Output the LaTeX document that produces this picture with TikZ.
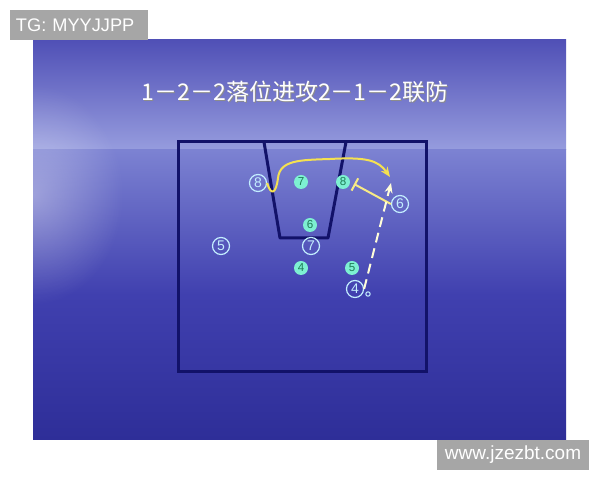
\documentclass[tikz,border=0pt]{standalone}
\usepackage{fontspec}
\setsansfont{Liberation Sans}
\newfontfamily\cjk{Noto Sans CJK SC}
\usetikzlibrary{arrows.meta,fadings}
\definecolor{skytop}{RGB}{80,80,182}
\definecolor{skymid}{RGB}{150,156,222}
\definecolor{seatop}{RGB}{124,130,210}
\definecolor{seamid}{RGB}{64,64,175}
\definecolor{seabot}{RGB}{46,46,152}
\definecolor{courtc}{RGB}{18,18,105}
\definecolor{offc}{RGB}{195,238,255}
\definecolor{defc}{RGB}{125,240,210}
\definecolor{defg}{RGB}{30,125,85}
\definecolor{movec}{RGB}{245,225,80}
\definecolor{tagc}{RGB}{166,166,166}
\tikzfading[name=haze, inner color=transparent!65, outer color=transparent!100]

\begin{document}
\begin{tikzpicture}[x=0.5pt, y=-0.5pt, off/.style={circle, draw=offc, text=offc, line width=0.6pt, inner sep=0pt, minimum size=8.5pt, font=\sffamily\fontsize{7}{7}\selectfont}, def/.style={circle, fill=defc, text=defg, inner sep=0pt, minimum size=7pt, font=\sffamily\fontsize{5.8}{6}\selectfont}, tag/.style={fill=tagc, text=white, inner sep=0pt, font=\sffamily\fontsize{9.5}{10}\selectfont}]
  \useasboundingbox (0,0) rectangle (600,480);
  \fill[white] (0,0) rectangle (600,480);
  % background
  \shade[top color=skytop, bottom color=skymid] (33,40) rectangle (566,150);
  \shade[top color=seatop, bottom color=seabot, middle color=seamid] (33,150) rectangle (566,440);
  \begin{scope}
    \clip (33,40) rectangle (566,440);
    \fill[white, path fading=haze] (33,195) ellipse (90 and 110);
  \end{scope}
  \node[tag, minimum width=69pt, minimum height=15pt, text width=63pt, font=\sffamily\fontsize{9.1}{10}\selectfont] (tg) at (79,25) {TG: MYYJJPP};
  \node[tag, minimum width=76pt, minimum height=15pt] (web) at (513,455) {www.jzezbt.com};
  \node[text=black!45, font=\cjk\fontsize{11.5}{13}\selectfont] (shadow) at (296,93) {1－2－2落位进攻2－1－2联防};
  \node[text=white, font=\cjk\fontsize{11.5}{13}\selectfont] (title) at (295,92) {1－2－2落位进攻2－1－2联防};
  % court
  \draw[courtc, line width=1.5pt] (178,142) rectangle (426,372);
  \draw[courtc, line width=1.5pt, line join=round] (264,142) -- (280,238) -- (328,238) -- (346,142);
  % offense
  \node[off] (o8) at (258,183) {8};
  \node[off] (o6) at (400,204) {6};
  \node[off] (o5) at (221,246) {5};
  \node[off] (o7) at (311,246) {7};
  \node[off] (o4) at (355,289) {4};
  \node[circle, draw=offc, line width=0.5pt, inner sep=0pt, minimum size=2.2pt] (ball) at (368,294) {};
  % defense
  \node[def] (d7) at (301,182) {7};
  \node[def] (d8) at (343,182) {8};
  \node[def] (d6) at (310,225) {6};
  \node[def] (d4) at (301,268) {4};
  \node[def] (d5) at (352,268) {5};
  \coordinate (cut) at (390,177);
  \coordinate (scr) at (354,184);
  \coordinate (pass) at (391,183);
  % moves
  \draw[movec, line width=1pt, -{Stealth[length=5pt, width=4pt]}] (o8.east) .. controls (271,196) and (276,194) .. (278,178) .. controls (280,160) and (300,160) .. (330,159) .. controls (366,157) and (378,160) .. (cut);
  \draw[movec!70!white, line width=1pt, -{Bar[width=7pt]}] (o6.west) -- (scr);
  \draw[white!85!yellow, line width=1pt, dash pattern=on 5pt off 3pt, -{Stealth[length=5pt, width=4pt]}] (o4.east) -- (pass);
\end{tikzpicture}
\end{document}
